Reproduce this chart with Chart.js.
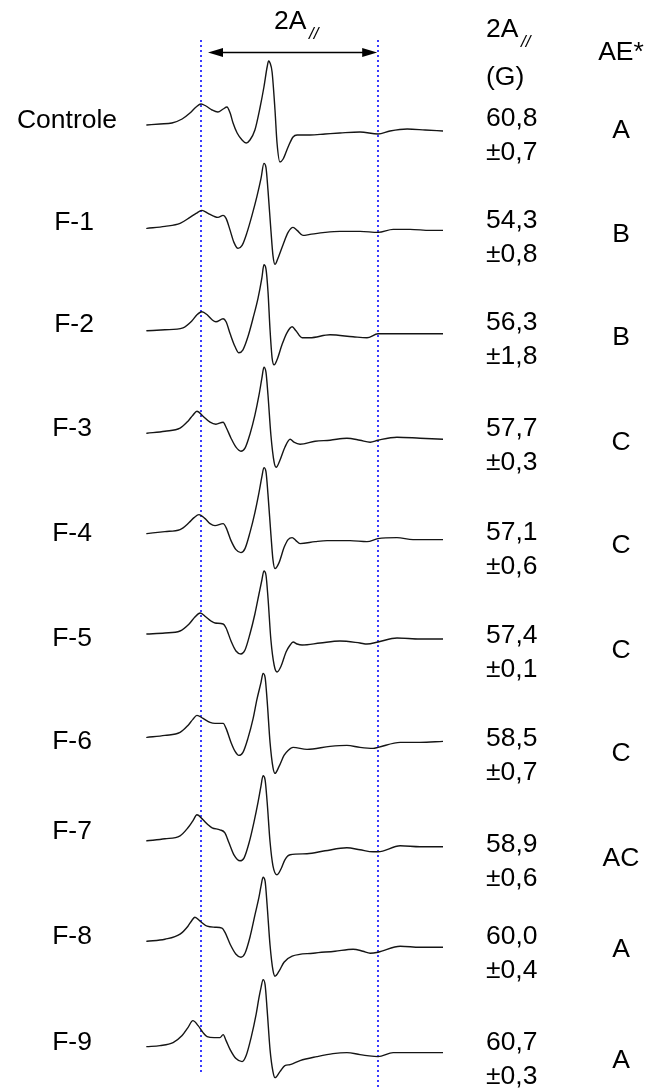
<!DOCTYPE html>
<html><head><meta charset="utf-8">
<script src="https://cdn.jsdelivr.net/npm/chart.js@4/dist/chart.umd.min.js"></script>
<style>html,body{margin:0;padding:0;background:#fff;}canvas{display:block;}</style>
</head><body>
<canvas id="c" width="651" height="1089"></canvas>
<script>
// ---------- DATA ----------
const categories = ['Controle','F-1','F-2','F-3','F-4','F-5','F-6','F-7','F-8','F-9'];
const a2Mean = [60.8, 54.3, 56.3, 57.7, 57.1, 57.4, 58.5, 58.9, 60.0, 60.7];   // 2A// (G)
const a2Sd   = [0.7, 0.8, 1.8, 0.3, 0.6, 0.1, 0.7, 0.6, 0.4, 0.3];
const aeClass = ['A','B','B','C','C','C','C','AC','A','A'];
const refLines = [18.9, 79.7];     // field (G) of the dotted markers (2A// of Controle)
const arrowSpan = [21.3, 79.4];    // field (G)

// spectra: [field offset (G), intensity (a.u.)]
const specControle = [[0.3,0],[4.8,1],[8.9,2],[12.4,6],[15.1,12],[17.2,18],[18.9,21],[20.6,19],[22.7,15],[24.7,13],[26.5,16],[27.8,18],[28.9,12],[29.9,2],[31.3,-8],[33.0,-15],[34.4,-18],[35.7,-15],[37.4,-5],[39.2,18],[40.5,38],[41.6,58],[42.1,64],[42.6,62],[43.3,53],[44.3,15],[45.0,-18],[46.0,-37],[47.1,-34],[48.8,-22],[50.5,-12],[51.9,-10],[56.3,-10],[61.5,-9],[66.6,-8],[73.5,-7],[79.7,-9],[83.8,-6],[89.7,-4],[95.9,-5],[102.0,-6]];
const specF1 = [[0.3,-1],[6.5,1],[11.7,4],[15.1,10],[17.2,14],[19.2,17],[21.3,14],[23.4,11],[24.7,10],[26.5,12],[27.5,9],[28.9,-3],[30.2,-15],[31.6,-21],[33.0,-18],[34.7,-5],[36.4,12],[38.1,31],[39.5,49],[40.5,64],[41.2,60],[41.9,37],[42.9,-3],[43.6,-28],[44.3,-37],[45.3,-31],[47.1,-17],[48.8,-5],[50.5,0],[51.9,-3],[53.9,-8],[56.3,-7],[61.5,-5],[66.6,-4],[73.5,-4],[79.7,-5],[84.9,-2],[90.7,-2],[97.6,-3],[102.0,-3]];
const specF2 = [[0.3,-1],[6.5,0],[12.7,2],[15.8,9],[17.5,15],[19.2,18],[21.0,15],[22.7,10],[24.0,8],[26.5,11],[27.5,8],[28.9,-4],[30.6,-17],[31.9,-23],[33.3,-20],[35.0,-7],[36.8,12],[38.5,32],[39.8,52],[40.5,65],[41.2,61],[41.9,38],[42.6,0],[43.3,-28],[44.0,-35],[45.0,-30],[46.7,-15],[48.4,-3],[50.2,3],[51.5,-1],[53.6,-8],[56.3,-8],[63.2,-5],[71.1,-7],[75.9,-8],[79.7,-4],[87.3,-4],[94.1,-4],[102.0,-4]];
const specF3 = [[0.3,-1],[6.5,1],[11.7,4],[14.4,11],[16.1,17],[17.5,21],[19.6,16],[22.0,10],[24.0,8],[26.5,10],[27.5,5],[29.2,-6],[30.9,-15],[32.6,-19],[34.0,-16],[35.7,-2],[37.4,17],[38.8,37],[39.8,54],[40.5,65],[41.2,60],[41.9,37],[42.9,-3],[44.0,-30],[44.7,-35],[46.0,-28],[47.7,-15],[49.5,-7],[50.8,-10],[52.9,-12],[58.1,-9],[63.2,-8],[69.0,-6],[73.5,-8],[77.0,-10],[79.7,-8],[86.2,-5],[94.1,-6],[102.0,-7]];
const specF4 = [[0.3,1],[6.5,3],[11.7,5],[14.8,12],[16.5,17],[18.2,20],[20.3,16],[22.0,11],[23.7,9],[26.5,11],[27.5,7],[29.2,-6],[30.9,-15],[32.6,-18],[34.0,-14],[35.7,2],[37.4,22],[38.8,42],[39.8,58],[40.5,67],[41.2,63],[41.9,40],[42.9,0],[43.6,-25],[44.3,-34],[45.7,-28],[47.4,-13],[48.8,-5],[50.2,-3],[51.5,-6],[52.9,-9],[58.1,-7],[62.2,-6],[70.1,-6],[75.9,-7],[79.7,-4],[86.2,-3],[91.7,-5],[102.0,-5]];
const specF5 = [[0.3,3],[6.5,4],[11.7,6],[14.8,13],[16.8,20],[18.6,24],[20.6,20],[22.3,16],[23.7,14],[26.5,13],[27.5,9],[29.2,-4],[30.9,-14],[32.6,-17],[34.0,-13],[35.7,3],[37.4,23],[38.8,43],[39.8,57],[40.5,66],[41.2,62],[41.9,39],[42.9,-3],[44.0,-28],[45.0,-35],[46.4,-29],[48.1,-15],[49.5,-8],[50.5,-5],[51.9,-7],[53.6,-8],[59.8,-6],[66.6,-4],[73.5,-6],[75.9,-7],[79.7,-5],[86.2,-1],[94.1,-2],[102.0,-2]];
const specF6 = [[0.3,2],[6.5,4],[11.7,7],[14.4,14],[16.1,20],[17.5,24],[19.6,21],[22.0,17],[23.7,16],[26.5,16],[27.5,11],[29.2,-3],[30.6,-12],[31.9,-16],[33.3,-13],[35.0,1],[36.8,21],[38.1,40],[39.5,57],[40.2,66],[40.9,62],[41.6,39],[42.6,-3],[43.6,-28],[44.3,-34],[45.7,-27],[47.4,-16],[48.8,-11],[50.5,-8],[55.3,-10],[63.2,-7],[69.0,-6],[73.5,-8],[78.0,-9],[79.7,-8],[87.3,-3],[94.1,-3],[102.0,-2]];
const specF7 = [[0.3,1],[6.5,3],[11.7,6],[14.4,14],[16.1,21],[17.5,27],[19.6,22],[21.3,17],[22.7,14],[25.4,12],[27.1,9],[28.5,-1],[30.2,-13],[32.3,-19],[33.7,-16],[35.4,-1],[37.1,20],[38.5,40],[39.5,56],[40.2,66],[40.9,62],[41.6,40],[42.6,0],[43.6,-24],[45.0,-33],[46.4,-27],[47.7,-18],[49.5,-13],[55.3,-12],[61.5,-9],[69.0,-6],[73.5,-8],[78.0,-10],[79.7,-10],[87.3,-4],[94.1,-5],[102.0,-5]];
const specF8 = [[0.3,3],[6.5,5],[11.7,10],[14.4,18],[15.8,24],[16.8,27],[18.6,23],[21.0,18],[23.7,17],[26.1,16],[27.1,12],[28.9,0],[30.9,-10],[32.6,-13],[34.0,-9],[35.7,7],[37.4,29],[38.8,47],[39.5,58],[40.2,67],[40.9,63],[41.6,39],[42.6,-1],[43.6,-26],[44.3,-32],[45.7,-27],[47.4,-18],[50.2,-12],[57.4,-9],[64.9,-7],[71.1,-5],[74.5,-7],[77.0,-9],[79.7,-8],[87.3,-2],[94.1,-3],[102.0,-3]];
const specF9 = [[0.3,0],[4.8,1],[9.3,4],[12.4,11],[14.4,19],[16.1,26],[17.9,21],[19.6,14],[21.0,10],[23.4,9],[25.4,9],[26.5,12],[27.5,6],[28.9,-3],[30.9,-12],[33.0,-15],[34.4,-9],[36.1,9],[37.8,32],[38.8,49],[39.5,59],[40.2,67],[40.9,62],[41.6,37],[42.6,-3],[43.6,-25],[44.3,-31],[46.0,-25],[47.7,-19],[49.5,-18],[52.9,-14],[58.7,-10],[64.2,-7],[69.0,-6],[73.5,-8],[75.9,-9],[79.7,-10],[84.9,-6],[94.1,-6],[102.0,-6]];
const spectra = [specControle, specF1, specF2, specF3, specF4, specF5, specF6, specF7, specF8, specF9];

// ---------- LAYOUT ----------
const ROW0 = 125, ROW_STEP = 102.4;           // stacking offsets (y-scale units)
const labelY = [118, 220, 322, 426, 531, 636, 739, 829, 934, 1040];
const labelX = [67, 74, 74, 72, 72, 72, 72, 72, 72, 72];
const val1Y  = [116, 218, 320, 426, 530, 633, 736, 842, 934, 1040];
const aeY    = [128, 232, 335, 440, 543, 648, 751, 856, 947, 1058];
const FONT = '"Liberation Sans", Arial, sans-serif';
const fmt = v => v.toFixed(1).replace('.', ',');

const datasets = spectra.map((s, i) => ({
  label: categories[i],
  data: s.map(([x, y]) => ({x, y: ROW0 + ROW_STEP * i - y})),
  borderColor: '#151515', borderWidth: 1.4, pointRadius: 0,
  cubicInterpolationMode: 'monotone', fill: false
}));

const overlay = {
  id: 'overlay',
  beforeDatasetsDraw(chart) {
    const {ctx, scales: {x, y}} = chart;
    ctx.save();
    ctx.strokeStyle = '#3a3aff';
    ctx.lineWidth = 2;
    ctx.setLineDash([2, 3]);
    const ends = [1072, 1089];
    refLines.forEach((f, k) => {
      const px = Math.round(x.getPixelForValue(f));
      ctx.beginPath();
      ctx.moveTo(px, y.getPixelForValue(40));
      ctx.lineTo(px, y.getPixelForValue(ends[k]));
      ctx.stroke();
    });
    ctx.restore();
  },
  afterDraw(chart) {
    const {ctx, scales: {x, y}} = chart;
    ctx.save();
    // arrow
    const ay = y.getPixelForValue(52) + 0.5;
    const x1 = x.getPixelForValue(arrowSpan[0]), x2 = x.getPixelForValue(arrowSpan[1]);
    ctx.strokeStyle = '#000'; ctx.fillStyle = '#000'; ctx.lineWidth = 1.5;
    ctx.beginPath(); ctx.moveTo(x1 + 10, ay); ctx.lineTo(x2 - 10, ay); ctx.stroke();
    ctx.beginPath(); ctx.moveTo(x1, ay); ctx.lineTo(x1 + 15, ay - 4.5); ctx.lineTo(x1 + 15, ay + 4.5); ctx.closePath(); ctx.fill();
    ctx.beginPath(); ctx.moveTo(x2, ay); ctx.lineTo(x2 - 15, ay - 4.5); ctx.lineTo(x2 - 15, ay + 4.5); ctx.closePath(); ctx.fill();

    ctx.fillStyle = '#000';
    ctx.textBaseline = 'alphabetic';
    const big = '26.5px ' + FONT, sub = 'italic 17px ' + FONT;
    // top header 2A//
    ctx.font = big; ctx.textAlign = 'left';
    ctx.fillText('2A', 274, 29);
    ctx.font = sub; ctx.fillText('//', 309, 39);
    // right header
    ctx.font = big; ctx.fillText('2A', 486, 37);
    ctx.font = sub; ctx.fillText('//', 521, 47);
    ctx.font = big; ctx.fillText('(G)', 486, 85);
    ctx.textAlign = 'center'; ctx.fillText('AE*', 621, 60);

    categories.forEach((c, i) => {
      ctx.font = big;
      ctx.textAlign = 'center';
      ctx.fillText(c, labelX[i], labelY[i] + 9.5);
      ctx.textAlign = 'left';
      ctx.fillText(fmt(a2Mean[i]), 486, val1Y[i] + 9.5);
      ctx.fillText('±' + fmt(a2Sd[i]), 486, val1Y[i] + 43.5);
      ctx.textAlign = 'center';
      ctx.fillText(aeClass[i], 621, aeY[i] + 9.5);
    });
    ctx.restore();
  }
};

new Chart(document.getElementById('c'), {
  type: 'line',
  data: { datasets },
  options: {
    responsive: false, animation: false, devicePixelRatio: 1,
    layout: { padding: { left: 146, right: 208, top: 0, bottom: 0 } },
    scales: {
      x: { type: 'linear', min: 0, max: 102, display: false },
      y: { type: 'linear', min: 0, max: 1089, reverse: true, display: false }
    },
    plugins: { legend: { display: false }, tooltip: { enabled: false } },
    elements: { line: { borderCapStyle: 'round', borderJoinStyle: 'round' } }
  },
  plugins: [overlay]
});
</script>
</body></html>
